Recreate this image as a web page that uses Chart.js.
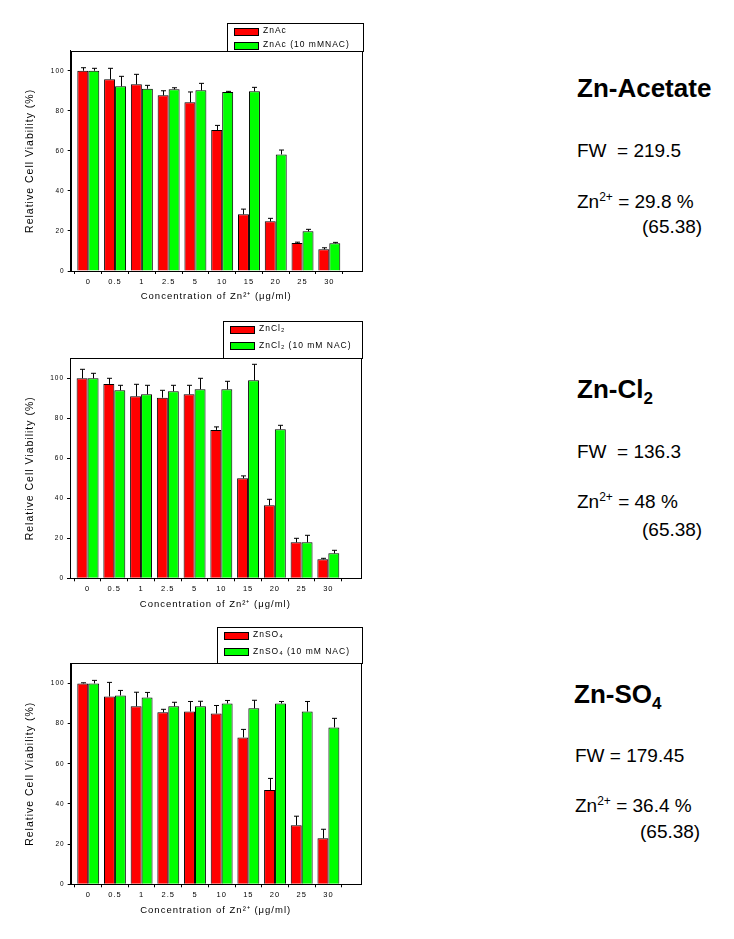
<!DOCTYPE html>
<html>
<head>
<meta charset="utf-8">
<script src="https://cdn.jsdelivr.net/npm/chart.js@4.4.1/dist/chart.umd.min.js"></script>
<style>
body { margin: 0; background: #fff; }
#page { position: relative; width: 734px; height: 939px; overflow: hidden; font-family: "Liberation Sans", Arial, sans-serif; color: #000; }
canvas { position: absolute; left: 0; }
.t { position: absolute; white-space: pre; line-height: 1; }
.h { font-weight: bold; font-size: 26px; }
.h sub { font-size: 17px; line-height: 0; vertical-align: -6px; }
.f { font-size: 19px; }
.f sup { font-size: 12px; line-height: 0; vertical-align: 7px; }
</style>
</head>
<body>
<div id="page">
  <canvas id="c1" width="370" height="300" style="top:15px"></canvas>
  <canvas id="c2" width="370" height="300" style="top:315px"></canvas>
  <canvas id="c3" width="370" height="300" style="top:620px"></canvas>

  <div class="t h" style="left:577px;top:75px">Zn-Acetate</div>
  <div class="t f" style="left:577px;top:140.6px">FW  = 219.5</div>
  <div class="t f" style="left:577px;top:191.6px">Zn<sup>2+</sup> = 29.8 %</div>
  <div class="t f" style="left:642px;top:217px">(65.38)</div>

  <div class="t h" style="left:577px;top:376.3px">Zn-Cl<sub>2</sub></div>
  <div class="t f" style="left:577px;top:442.2px">FW  = 136.3</div>
  <div class="t f" style="left:577px;top:492.2px">Zn<sup>2+</sup> = 48 %</div>
  <div class="t f" style="left:642px;top:519.6px">(65.38)</div>

  <div class="t h" style="left:574px;top:681.3px">Zn-SO<sub>4</sub></div>
  <div class="t f" style="left:575px;top:745.6px">FW = 179.45</div>
  <div class="t f" style="left:575px;top:796.2px">Zn<sup>2+</sup> = 36.4 %</div>
  <div class="t f" style="left:640px;top:822.2px">(65.38)</div>
</div>
<script>
// concentrations of Zn2+ (ug/ml) and y axis ticks
var concLabels = ['0', '0.5', '1', '2.5', '5', '10', '15', '20', '25', '30'];
var yTicks = [0, 20, 40, 60, 80, 100];

// Zn acetate
var znAc       = [100, 95.7, 93.2, 87.7, 84.2, 70.4, 28.3, 24.8, 14.0, 10.8];
var znAcErr    = [1.5, 5.5, 5.0, 2.3, 5.2, 2.3, 2.6, 1.5, 0.4, 0.8];
var znAcNac    = [100, 92.2, 91.0, 90.7, 90.2, 89.4, 89.7, 58.2, 19.8, 13.8];
var znAcNacErr = [1.2, 5.0, 1.7, 0.8, 3.5, 0.3, 2.0, 2.2, 1.0, 0.5];

// Zn chloride
var znCl       = [100, 97.2, 91.0, 90.3, 92.0, 74.2, 50.0, 36.5, 18.0, 9.5];
var znClErr    = [4.5, 2.8, 6.0, 3.7, 4.5, 1.5, 1.2, 3.0, 2.0, 0.5];
var znClNac    = [100, 94.0, 92.0, 93.5, 94.5, 94.5, 99.0, 74.5, 18.0, 12.5];
var znClNacErr = [2.5, 2.5, 4.5, 3.0, 5.5, 4.0, 8.0, 2.0, 3.5, 1.5];

// Zn sulfate
var znSo       = [100, 93.5, 88.6, 85.6, 86.0, 85.0, 73.1, 46.9, 29.4, 22.9];
var znSoErr    = [0.3, 7.0, 7.0, 1.5, 5.0, 4.0, 4.0, 5.8, 4.5, 4.5];
var znSoNac    = [100, 94.0, 93.0, 88.6, 88.6, 90.0, 87.6, 90.0, 86.0, 78.1];
var znSoNacErr = [1.5, 2.5, 2.5, 2.0, 2.5, 1.5, 4.0, 1.0, 5.0, 4.5];

var colors = ['#ff0000', '#00ff00'];
var FONT = '"Liberation Sans", Arial, sans-serif';

var panels = [
  { id: 'c1', h: 300, top: 35.7, bottom: 256, left: 70.7, right: 361.7, xTitleY: 281.7,
    leg: { left: 227, top: 8, gap: 14 },
    labels: ['ZnAc', 'ZnAc (10 mMNAC)'], values: [znAc, znAcNac], errors: [znAcErr, znAcNacErr] },
  { id: 'c2', h: 300, top: 43.3, bottom: 263.3, left: 70, right: 360.7, xTitleY: 289,
    leg: { left: 223, top: 6, gap: 16.7 },
    labels: ['ZnCl\u2082', 'ZnCl\u2082 (10 mM NAC)'], values: [znCl, znClNac], errors: [znClErr, znClNacErr] },
  { id: 'c3', h: 300, top: 43.3, bottom: 264.3, left: 70.7, right: 360.7, xTitleY: 290,
    leg: { left: 217.3, top: 7, gap: 16.7 },
    labels: ['ZnSO\u2084', 'ZnSO\u2084 (10 mM NAC)'], values: [znSo, znSoNac], errors: [znSoErr, znSoNacErr] }
];

function makeChart(p) {
  var ctx = document.getElementById(p.id).getContext('2d');

  var spacing = {
    id: 'spacing',
    beforeDraw: function (chart) { chart.ctx.letterSpacing = '1px'; }
  };

  var errorBars = {
    id: 'errorBars',
    afterDatasetsDraw: function (chart) {
      var c = chart.ctx, y = chart.scales.y;
      c.save();
      c.strokeStyle = '#000';
      c.lineWidth = 1;
      chart.data.datasets.forEach(function (ds, i) {
        chart.getDatasetMeta(i).data.forEach(function (bar, j) {
          var top = y.getPixelForValue(ds.data[j].y + ds.errors[j]);
          var x = Math.round(bar.x) + 0.5;
          c.beginPath();
          c.moveTo(x, bar.y);
          c.lineTo(x, top);
          c.moveTo(x - 2.5, top);
          c.lineTo(x + 2.5, top);
          c.stroke();
        });
      });
      c.restore();
    }
  };

  var frameLegend = {
    id: 'frameLegend',
    afterDraw: function (chart) {
      var c = chart.ctx, a = chart.chartArea;
      c.save();
      c.strokeStyle = '#000';
      c.lineWidth = 1;
      c.strokeRect(Math.round(a.left) + 0.5, Math.round(a.top) + 0.5, Math.round(a.right - a.left), Math.round(a.bottom - a.top));

      // legend box sitting on top of the plot frame
      var L = Math.round(p.leg.left) + 0.5, T = Math.round(p.leg.top) + 0.5;
      var R = Math.round(a.right) + 1.5, B = Math.round(a.top) + 0.5;
      c.fillStyle = '#fff';
      c.fillRect(L, T, R - L, B - T);
      c.strokeRect(L, T, R - L, B - T);
      c.font = '8.5px ' + FONT;
      c.textBaseline = 'middle';
      c.textAlign = 'left';
      chart.data.datasets.forEach(function (ds, i) {
        var cy = T + 7.5 + i * p.leg.gap;
        var sx = Math.round(L + 6);
        c.fillStyle = ds.backgroundColor;
        c.fillRect(sx + 0.5, Math.round(cy - 3.5) + 0.5, 24, 7);
        c.strokeRect(sx + 0.5, Math.round(cy - 3.5) + 0.5, 24, 7);
        c.fillStyle = '#000';
        c.fillText(ds.label, sx + 29, cy);
      });
      c.restore();
    }
  };

  var titleFont = { family: FONT, size: 9.5 };

  return new Chart(ctx, {
    type: 'bar',
    data: {
      datasets: p.values.map(function (vals, i) {
        return {
          label: p.labels[i],
          data: vals.map(function (v, k) { return { x: k, y: v }; }),
          errors: p.errors[i],
          backgroundColor: colors[i],
          borderColor: '#000',
          borderWidth: 1,
          categoryPercentage: 0.82,
          barPercentage: 1.0
        };
      })
    },
    options: {
      responsive: false,
      animation: false,
      devicePixelRatio: 1,
      layout: { padding: { top: p.top, right: 370 - p.right, bottom: 0, left: 0 } },
      plugins: { legend: { display: false }, tooltip: { enabled: false } },
      scales: {
        x: {
          type: 'linear',
          offset: false,
          min: -0.657,
          max: 10.21,
          afterBuildTicks: function (s) { s.ticks = concLabels.map(function (c, i) { return { value: i }; }); },
          afterFit: function (s) { s.height = p.h - p.bottom; },
          grid: { offset: true, drawOnChartArea: false, tickLength: 3, color: '#000' },
          border: { color: '#000' },
          ticks: {
            color: '#000', padding: 3, maxRotation: 0, autoSkip: false,
            font: { family: FONT, size: 7.5 },
            callback: function (v) { return concLabels[v]; }
          },
          title: {
            display: true, text: 'Concentration of Zn\u00b2\u207a (\u03bcg/ml)', color: '#000', font: titleFont,
            padding: { top: 0, bottom: p.h - p.xTitleY - titleFont.size * 0.6 }
          }
        },
        y: {
          min: 0,
          max: 110,
          afterBuildTicks: function (s) { s.ticks = yTicks.map(function (v) { return { value: v }; }); },
          afterFit: function (s) { s.width = p.left; },
          grid: { drawOnChartArea: false, tickLength: 3, color: '#000' },
          border: { color: '#000' },
          ticks: { color: '#000', padding: 3, font: { family: FONT, size: 6.5 } },
          title: {
            display: true, text: 'Relative Cell Viability (%)', color: '#000',
            font: { family: FONT, size: 10.5 }, padding: { top: 24, bottom: 0 }
          }
        }
      }
    },
    plugins: [spacing, errorBars, frameLegend]
  });
}

panels.forEach(makeChart);
</script>
</body>
</html>
